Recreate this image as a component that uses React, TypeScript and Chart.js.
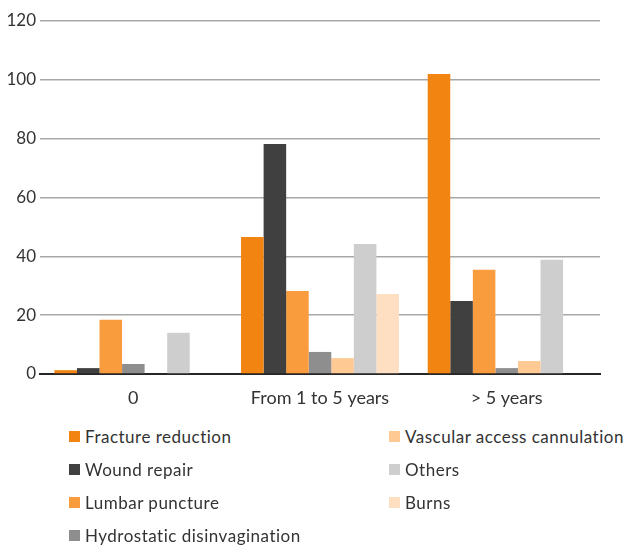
import React, { useEffect, useRef } from "react";
import { Chart, registerables } from "chart.js";

Chart.register(...registerables);

// Age groups on the horizontal axis
const categories = ["0", "From 1 to 5 years", "> 5 years"];

// Procedure counts per age group
const fractureReduction = [1.3, 46.6, 102];
const woundRepair = [2, 78.2, 24.8];
const lumbarPuncture = [18.4, 28.2, 35.4];
const hydrostaticDisinvagination = [3.4, 7.5, 2];
const vascularAccessCannulation = [0, 5.4, 4.4];
const others = [14, 44.2, 38.8];
const burns = [0, 27.2, 0];

const yTicks = { min: 0, max: 120, step: 20 };

const series = [
  { label: "Fracture reduction", data: fractureReduction, color: "#F28411" },
  { label: "Wound repair", data: woundRepair, color: "#404040" },
  { label: "Lumbar puncture", data: lumbarPuncture, color: "#F99C3E" },
  { label: "Hydrostatic disinvagination", data: hydrostaticDisinvagination, color: "#8E8E8E" },
  { label: "Vascular access cannulation", data: vascularAccessCannulation, color: "#FFC994" },
  { label: "Others", data: others, color: "#CECECE" },
  { label: "Burns", data: burns, color: "#FFDFC2" },
];

// Legend is laid out in two columns: first four, then the rest
const legendColumns = [series.slice(0, 4), series.slice(4)];

const FONT = "Lato, 'Open Sans', sans-serif";
const TEXT = "#333333";

export default function App() {
  const canvasRef = useRef<HTMLCanvasElement | null>(null);

  useEffect(() => {
    if (!canvasRef.current) return;
    const chart = new Chart(canvasRef.current, {
      type: "bar",
      data: {
        labels: categories,
        datasets: series.map((s) => ({
          label: s.label,
          data: s.data,
          backgroundColor: s.color,
          borderWidth: 0,
          barPercentage: 1,
          categoryPercentage: 0.846,
        })),
      },
      options: {
        animation: false,
        responsive: false,
        maintainAspectRatio: false,
        layout: { padding: { top: 21, right: 25, left: 0, bottom: 0 } },
        plugins: {
          legend: { display: false },
          tooltip: { enabled: false },
        },
        scales: {
          x: {
            grid: { display: false },
            border: { display: true, color: "#262626", width: 2 },
            ticks: {
              color: TEXT,
              font: { family: FONT, size: 18 },
              padding: 5,
            },
            afterFit: (scale: any) => {
              scale.height = 46;
            },
          },
          y: {
            min: yTicks.min,
            max: yTicks.max,
            ticks: {
              stepSize: yTicks.step,
              color: TEXT,
              font: { family: FONT, size: 17 },
              padding: 4,
            },
            grid: {
              color: "#A8A8A8",
              lineWidth: 1.5,
              drawTicks: false,
            },
            border: { display: false },
            afterFit: (scale: any) => {
              scale.width = 40;
            },
          },
        },
      },
    });
    return () => chart.destroy();
  }, []);

  return (
    <div
      style={{
        position: "fixed",
        left: 0,
        top: 0,
        width: 625,
        height: 545,
        background: "#fff",
        fontFamily: FONT,
      }}
    >
      <canvas ref={canvasRef} width={625} height={420} style={{ display: "block" }} />
      {legendColumns.map((col, ci) =>
        col.map((s, ri) => (
          <div
            key={s.label}
            style={{
              position: "absolute",
              left: ci === 0 ? 69 : 389,
              top: 426 + ri * 33.3,
              height: 20,
              display: "flex",
              alignItems: "center",
              whiteSpace: "nowrap",
              fontSize: 17,
              letterSpacing: 0.5,
              color: TEXT,
            }}
          >
            <span
              style={{
                display: "inline-block",
                width: 11,
                height: 11,
                background: s.color,
                marginRight: 5,
              }}
            />
            <span>{s.label}</span>
          </div>
        ))
      )}
    </div>
  );
}
